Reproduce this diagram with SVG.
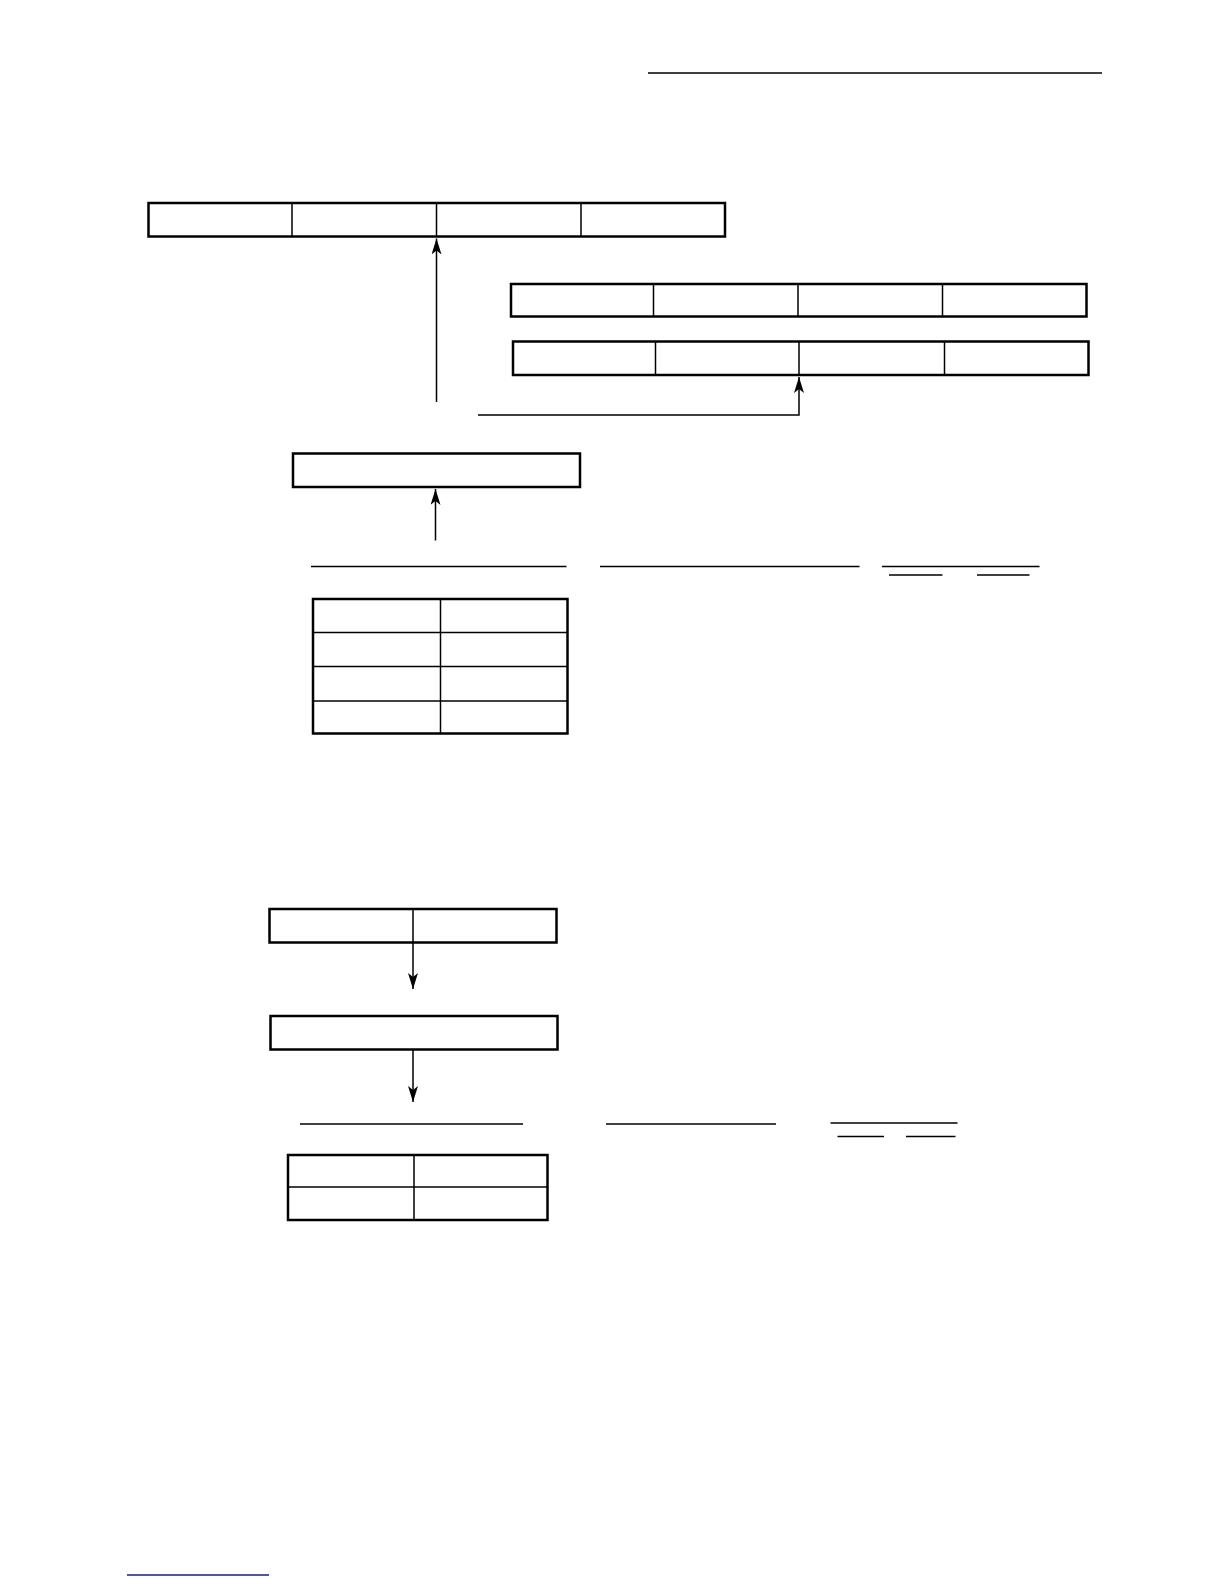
<svg xmlns="http://www.w3.org/2000/svg" width="1224" height="1584" viewBox="0 0 1224 1584">
<style>
.box{fill:#fff;stroke:#000;stroke-width:2.5}
.div{stroke:#000;stroke-width:1.5;fill:none}
.ln{stroke:#000;stroke-width:1.5;fill:none}
.rule{stroke:#000;stroke-width:1.5}
</style>
<defs>
<marker id="ah" viewBox="0 0 16 10" refX="16" refY="5" markerWidth="16" markerHeight="10" markerUnits="userSpaceOnUse" orient="auto">
<path d="M0,0 L16,5 L0,10 L4,5 Z" fill="#000"/>
</marker>
</defs>
<rect width="1224" height="1584" fill="#fff"/>
<line class="rule" x1="648" y1="73" x2="1102" y2="73"/>
<g id="box1">
<rect class="box" x="148.5" y="203" width="576.5" height="33.5"/>
<line class="div" x1="292" y1="203" x2="292" y2="236.5"/>
<line class="div" x1="436.5" y1="203" x2="436.5" y2="236.5"/>
<line class="div" x1="581" y1="203" x2="581" y2="236.5"/>
</g>
<g id="box2">
<rect class="box" x="511" y="284" width="575.5" height="32.5"/>
<line class="div" x1="653.5" y1="284" x2="653.5" y2="316.5"/>
<line class="div" x1="798" y1="284" x2="798" y2="316.5"/>
<line class="div" x1="942.5" y1="284" x2="942.5" y2="316.5"/>
</g>
<g id="box3">
<rect class="box" x="513" y="341.5" width="575.5" height="33.5"/>
<line class="div" x1="655.5" y1="341.5" x2="655.5" y2="375"/>
<line class="div" x1="799" y1="341.5" x2="799" y2="375"/>
<line class="div" x1="944.5" y1="341.5" x2="944.5" y2="375"/>
</g>
<g id="box4">
<rect class="box" x="293" y="453.5" width="287" height="33.5"/>
</g>
<g id="table1">
<rect class="box" x="313" y="599" width="254.5" height="134.5"/>
<line class="div" x1="440.5" y1="599" x2="440.5" y2="733.5"/>
<line class="div" x1="313" y1="632.5" x2="567.5" y2="632.5"/>
<line class="div" x1="313" y1="666.5" x2="567.5" y2="666.5"/>
<line class="div" x1="313" y1="701" x2="567.5" y2="701"/>
</g>
<g id="rules1">
<line class="rule" x1="311" y1="566.5" x2="566.5" y2="566.5"/>
<line class="rule" x1="600" y1="566.5" x2="859.5" y2="566.5"/>
<line class="rule" x1="882" y1="566.5" x2="1039.5" y2="566.5"/>
<line class="rule" x1="889" y1="575" x2="942.5" y2="575"/>
<line class="rule" x1="977" y1="575" x2="1029.5" y2="575"/>
</g>
<g id="box5">
<rect class="box" x="269.5" y="909" width="287" height="33.5"/>
<line class="div" x1="413" y1="909" x2="413" y2="942.5"/>
</g>
<g id="box6">
<rect class="box" x="270.5" y="1016" width="287" height="33.5"/>
</g>
<g id="table2">
<rect class="box" x="288" y="1155" width="259.5" height="65"/>
<line class="div" x1="414" y1="1155" x2="414" y2="1220"/>
<line class="div" x1="288" y1="1187" x2="547.5" y2="1187"/>
</g>
<g id="rules2">
<line class="rule" x1="300" y1="1124" x2="523" y2="1124"/>
<line class="rule" x1="606" y1="1124" x2="776" y2="1124"/>
<line class="rule" x1="830.5" y1="1123" x2="957.5" y2="1123"/>
<line class="rule" x1="837.5" y1="1136.5" x2="884" y2="1136.5"/>
<line class="rule" x1="906" y1="1136.5" x2="955.5" y2="1136.5"/>
</g>
<g id="connectors">
<line class="ln" x1="436.5" y1="402" x2="436.5" y2="238.5" marker-end="url(#ah)"/>
<polyline class="ln" points="478,415 799,415 799,377" marker-end="url(#ah)"/>
<line class="ln" x1="435.5" y1="540.5" x2="435.5" y2="489" marker-end="url(#ah)"/>
<line class="ln" x1="413" y1="942.5" x2="413" y2="989" marker-end="url(#ah)"/>
<line class="ln" x1="413" y1="1049.5" x2="413" y2="1102" marker-end="url(#ah)"/>
</g>
<line x1="127" y1="1575" x2="269" y2="1575" stroke="#1a1a8c" stroke-width="1.5"/>
</svg>
